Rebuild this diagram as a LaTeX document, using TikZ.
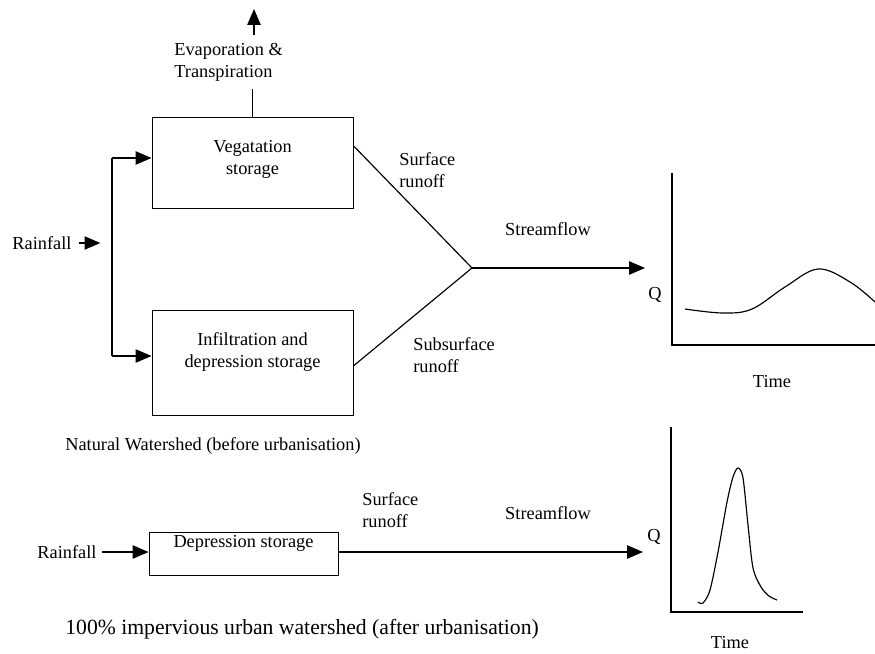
\documentclass[tikz,border=0pt]{standalone}
\usepackage{fontspec}
\setmainfont{Liberation Serif}
\usepackage{tikz}
\usetikzlibrary{arrows.meta}

\tikzset{
	box/.style={draw, line width=0.6pt, align=center, inner sep=0pt, font=\fontsize{11}{13.2}\selectfont},
	txt/.style={inner sep=0pt, align=left, font=\fontsize{11}{13.2}\selectfont},
	flow/.style={-{Triangle[length=9.5pt,width=8pt]}, line width=0.7pt},
	axis/.style={line width=0.7pt}
}

\begin{document}
\begin{tikzpicture}[x=0.6pt,y=-0.6pt]
					\useasboundingbox (0,0) rectangle (875,653);
					%Natural watershed
					\node [box, minimum width=120.6pt, minimum height=54.6pt, text depth=6pt] (veg) at (252.5,162.5) {Vegatation\\storage};
					\node [box, minimum width=120.6pt, minimum height=63pt, text depth=15pt] (inf) at (252.5,362.5) {Infiltration and\\depression storage};
					\node [txt, anchor=west] (evap) at (174,62) {Evaporation \&\\Transpiration};
					\node [txt] (rain1) at (42,243) {Rainfall};
					\node [txt, anchor=west] (surf1) at (399,170) {Surface\\runoff};
					\node [txt, anchor=west] (sub1) at (413,355) {Subsurface\\runoff};
					\node [txt] (flow1) at (548,229) {Streamflow};
					\coordinate (et) at (254,9);
					\coordinate (eb) at (254,35);
					\coordinate (vt) at (112,158);
					\coordinate (vm) at (112,243);
					\coordinate (vb) at (112,356);
					\coordinate (jn) at (472,268);
					\coordinate (q1) at (645,268);
					\draw [flow] (eb) -- (et);
					\draw [line width=0.6pt] (veg.north) -- ++(0,-28);
					\draw [flow] (rain1.east) ++(7,0) -- ([xshift=-7]vm);
					\draw [line width=0.7pt] (vt) -- (vb);
					\draw [flow] (vt) -- (vt -| veg.west);
					\draw [flow] (vb) -- (vb -| inf.west);
					\draw [line width=0.7pt] ([yshift=10]veg.east) -- (jn);
					\draw [line width=0.7pt] ([yshift=-2]inf.east) -- (jn);
					\draw [flow] (jn) -- (q1);
					%Graph 1
					\node [txt] (qa) at (655,295) {Q};
					\node [txt] (ta) at (772,382) {Time};
					\draw [axis] (672,173) -- (672,345) -- (875,345);
					\draw [line width=0.7pt] plot [smooth, tension=0.6] coordinates {(685,309) (723,313) (752,309) (785,287) (818,269) (850,282) (875,302)};
					\node [txt, anchor=west] (nat) at (65,446) {Natural Watershed (before urbanisation)};
					%Urban watershed
					\node [box, minimum width=113.4pt, minimum height=25.8pt, text depth=14pt] (dep) at (243.5,553.5) {Depression storage};
					\node [txt] (rain2) at (67,552) {Rainfall};
					\node [txt, anchor=west] (surf2) at (362,510) {Surface\\runoff};
					\node [txt] (flow2) at (548,513) {Streamflow};
					\coordinate (q2) at (643,552);
					\draw [flow] (rain2.east) ++(5,0) -- (dep.west |- q2);
					\draw [flow] (dep.east |- q2) -- (q2);
					%Graph 2
					\node [txt] (qb) at (654,537) {Q};
					\node [txt] (tb) at (730,643) {Time};
					\draw [axis] (671,427) -- (671,612) -- (803,612);
					\draw [line width=0.7pt] plot [smooth, tension=0.5] coordinates {(698,602) (703,603) (710,590) (718,552) (727,502) (733,477) (738,468) (743,478) (748,525) (753,568) (761,587) (769,596) (777,600)};
					\node [txt, anchor=west, font=\fontsize{13}{15}\selectfont] (imp) at (65,629) {100\% impervious urban watershed (after urbanisation)};
		\end{tikzpicture}
\end{document}
